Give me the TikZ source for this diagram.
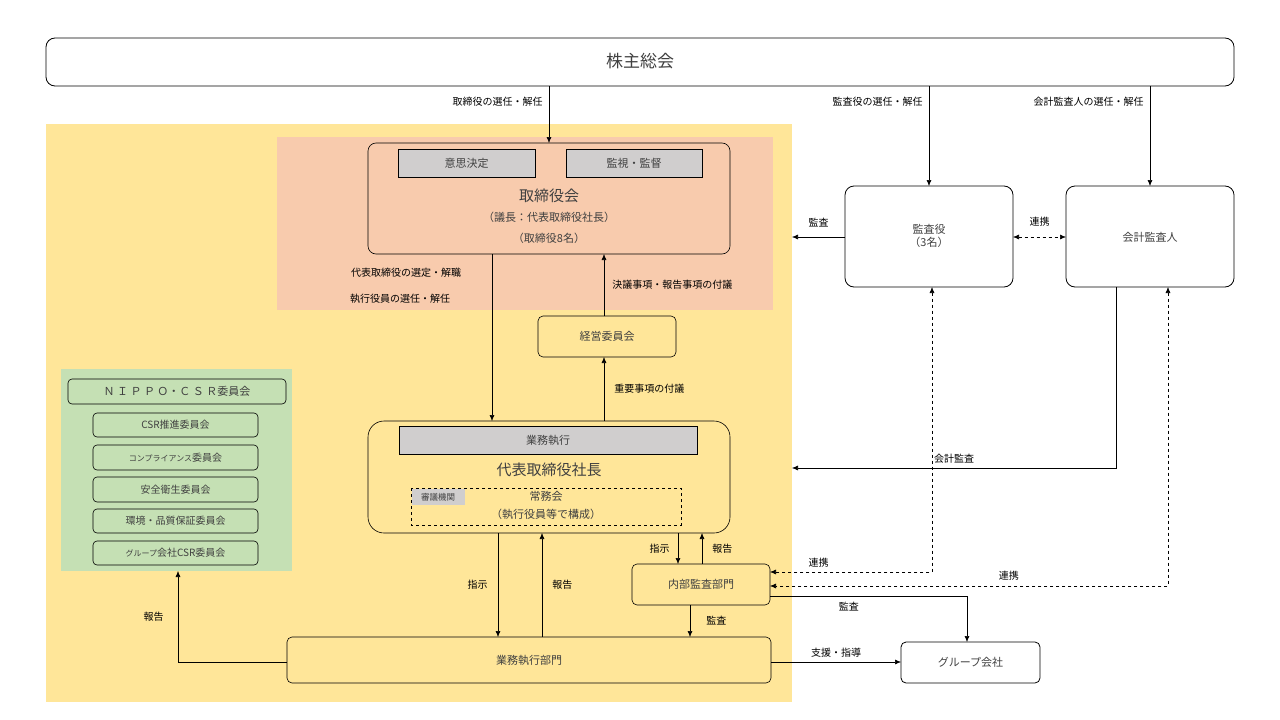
\documentclass[tikz,border=0pt]{standalone}
\usepackage{fontspec}
\setmainfont{Noto Sans CJK JP}
\usetikzlibrary{arrows.meta}
\definecolor{yel}{HTML}{FFE699}
\definecolor{pnk}{HTML}{F8CBAD}
\definecolor{grn}{HTML}{C5E0B4}
\definecolor{gry}{HTML}{D0CECE}
\definecolor{txt}{HTML}{404040}
\begin{document}
\begin{tikzpicture}[x=1pt,y=-1pt,
 box/.style={draw=black,fill=white,rounded corners=9pt,thick},
 ybox/.style={draw=black,fill=yel,rounded corners=8pt,semithick},
 gbox/.style={draw=black,fill=grn,rounded corners=4pt,semithick},
 gray/.style={draw=black,fill=gry,semithick},
 lab/.style={font=\fontsize{10}{12}\selectfont,text=black},
 arr/.style={-{Latex[length=6pt,width=5pt]},semithick},
 darr/.style={{Latex[length=6pt,width=5pt]}-{Latex[length=6pt,width=5pt]},semithick,dashed},
 every node/.style={inner sep=0pt,text=txt}]
\useasboundingbox (0,0) rectangle (1280,720);
\fill[yel] (46,124) rectangle (792,702);
\fill[pnk] (277,137) rectangle (773,310);
\fill[grn] (61,369) rectangle (292,571);
% nodes
\draw[box] (46,38) rectangle (1234,86);
\node[font=\fontsize{17}{20}\selectfont] (sh) at (640,61) {株主総会};
\coordinate (shb) at (640,86);
\draw[ybox,fill=pnk] (368,143) rectangle (730,254);
\draw[gray] (398,149) rectangle (535,177) node[midway,font=\fontsize{11}{13}\selectfont]{意思決定};
\draw[gray] (566,149) rectangle (702,177) node[midway,font=\fontsize{11}{13}\selectfont]{監視・監督};
\node[font=\fontsize{15}{18}\selectfont] at (549,196) {取締役会};
\node[font=\fontsize{11}{13}\selectfont] at (549,217) {（議長：代表取締役社長）};
\node[font=\fontsize{11}{13}\selectfont] at (549,238) {（取締役8名）};
\draw[box] (845,186) rectangle (1013,287);
\node[font=\fontsize{11}{13}\selectfont,align=center] at (929,236) {監査役\\（3名）};
\draw[box] (1066,186) rectangle (1234,287);
\node[font=\fontsize{11}{13}\selectfont] at (1150,237) {会計監査人};
\draw[ybox,rounded corners=5pt] (538,316) rectangle (676,357) node[midway,font=\fontsize{11}{13}\selectfont]{経営委員会};
\draw[ybox,rounded corners=16pt] (368,421) rectangle (730,533);
\draw[gray] (399,426) rectangle (697,454) node[midway,font=\fontsize{11}{13}\selectfont]{業務執行};
\node[font=\fontsize{15}{18}\selectfont] at (549,470) {代表取締役社長};
\draw[semithick,dashed] (411,488) rectangle (681,525);
\fill[gry] (412,489) rectangle (465,505);
\node[font=\fontsize{8.5}{10}\selectfont] at (438,497) {審議機関};
\node[font=\fontsize{11}{13}\selectfont] at (546,496) {常務会};
\node[font=\fontsize{11}{13}\selectfont] at (546,514) {（執行役員等で構成）};
\draw[ybox,rounded corners=5pt] (632,564) rectangle (770,605) node[midway,font=\fontsize{11}{13}\selectfont]{内部監査部門};
\draw[ybox,rounded corners=5pt] (287,637) rectangle (771,683) node[midway,font=\fontsize{11}{13}\selectfont]{業務執行部門};
\draw[box,rounded corners=5pt] (901,642) rectangle (1040,683) node[midway,font=\fontsize{11}{13}\selectfont]{グループ会社};
\draw[gbox] (68,379) rectangle (286,404) node[midway,font=\fontsize{11}{13}\selectfont]{Ｎ Ｉ Ｐ Ｐ Ｏ・Ｃ Ｓ Ｒ委員会};
\foreach \ya/\yb/\t in {413/437/CSR推進委員会,445/470/{\fontsize{8}{10}\selectfont コンプライアンス}委員会,477/502/安全衛生委員会,509/533/環境・品質保証委員会,541/565/{\fontsize{8}{10}\selectfont グループ}会社CSR委員会}
  \draw[gbox] (93,\ya) rectangle (258,\yb) node[midway,font=\fontsize{10}{12}\selectfont]{\t};
% connectors
\draw[arr] (549,86) -- (549,143) node[pos=0.28,left=6pt,lab]{取締役の選任・解任};
\draw[arr] (929,86) -- (929,186) node[pos=0.16,left=6pt,lab]{監査役の選任・解任};
\draw[arr] (1150,86) -- (1150,186) node[pos=0.16,left=6pt,lab]{会計監査人の選任・解任};
\draw[arr] (845,237) -- (792,237) node[midway,above=10pt,lab]{監査};
\draw[darr] (1013,237) -- (1066,237) node[midway,above=10pt,lab]{連携};
\draw[arr] (492,254) -- (492,421);
\node[lab] at (406,273) {代表取締役の選定・解職};
\node[lab] at (400,299) {執行役員の選任・解任};
\draw[arr] (604,316) -- (604,254) node[pos=0.5,right=8pt,lab]{決議事項・報告事項の付議};
\draw[arr] (604,421) -- (604,357) node[midway,right=10pt,lab]{重要事項の付議};
\draw[arr] (1116,287) |- (792,468) node[pos=0.75,above=4pt,lab]{会計監査};
\draw[arr] (498,533) -- (498,637) node[midway,left=10pt,lab]{指示};
\draw[arr] (542,637) -- (542,533) node[midway,right=10pt,lab]{報告};
\draw[arr] (678,533) -- (678,564) node[midway,left=8pt,lab]{指示};
\draw[arr] (702,564) -- (702,533) node[midway,right=10pt,lab]{報告};
\draw[arr] (690,605) -- (690,637) node[midway,right=16pt,lab]{監査};
\draw[arr] (770,596) -| (967,642) node[pos=0.2,below=6pt,lab]{監査};
\draw[darr] (932,287) |- (770,572) node[pos=0.85,above=4pt,lab]{連携};
\draw[darr] (1168,287) |- (770,586) node[pos=0.7,above=5pt,lab]{連携};
\draw[arr] (771,662) -- (901,662) node[midway,above=4pt,lab]{支援・指導};
\draw[arr] (287,662) -| (178,571) node[pos=0.75,left=14pt,lab]{報告};
\end{tikzpicture}
\end{document}
